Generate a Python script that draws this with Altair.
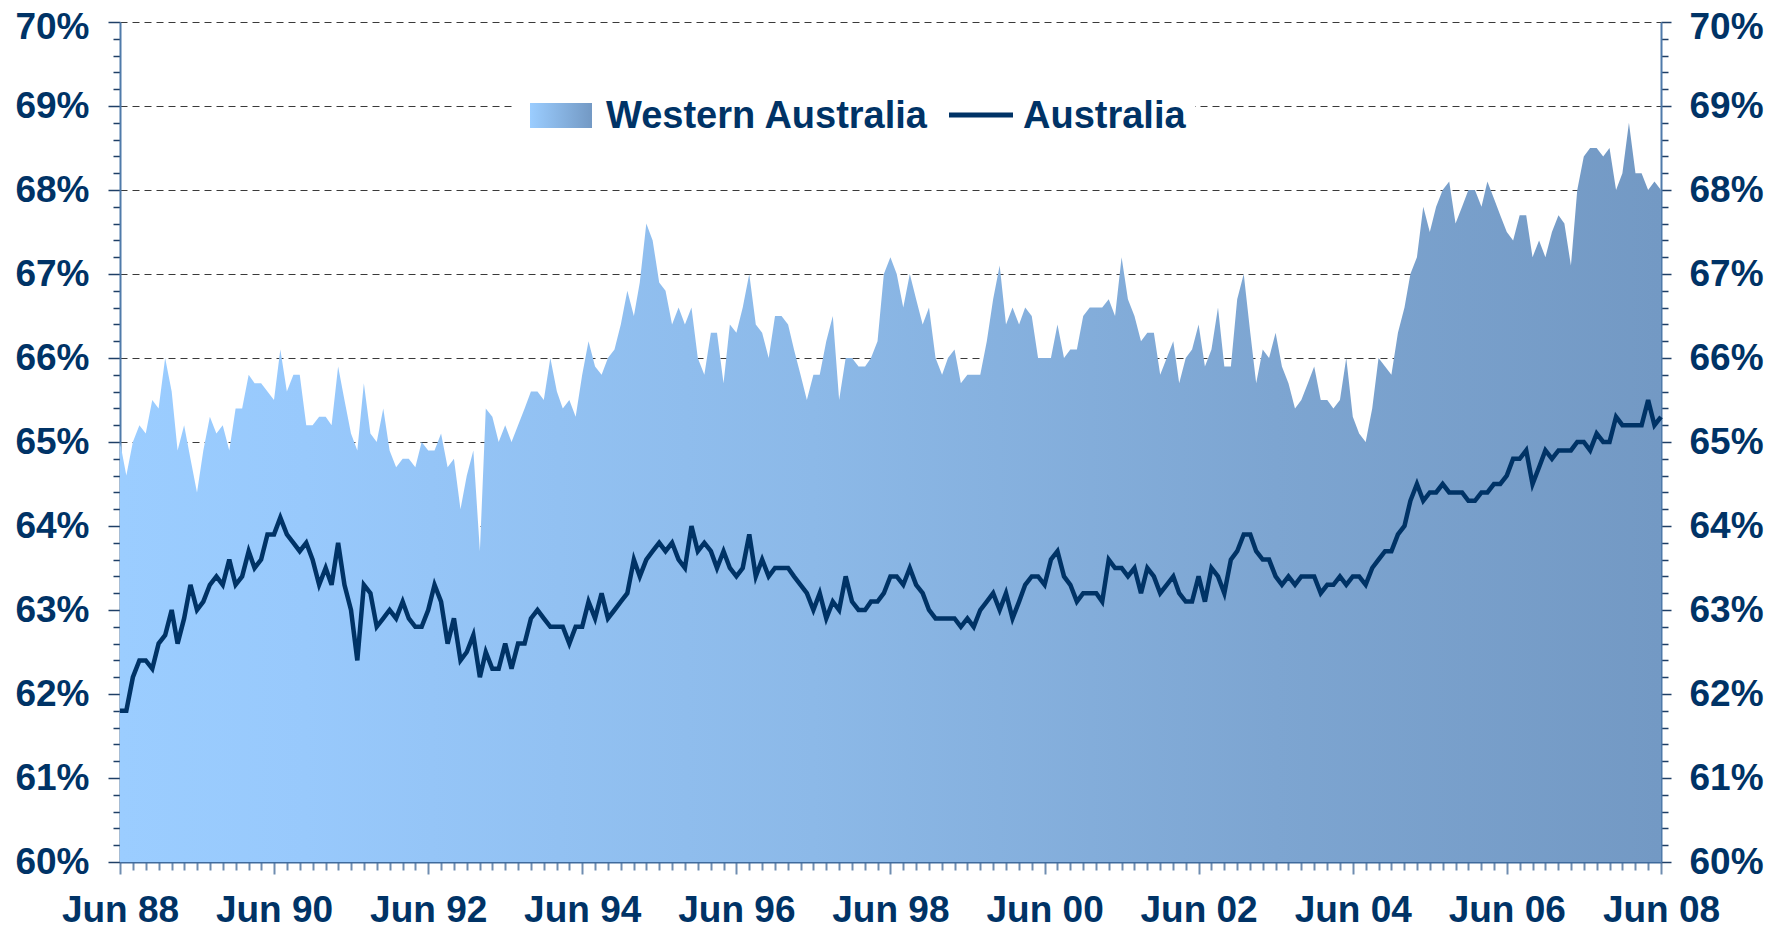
import altair as alt
import pandas as pd

# Monthly participation rate (%), Jun 1988 .. Jun 2008
wa = [65.0, 64.6, 65.0, 65.2, 65.1, 65.5, 65.4, 66.0, 65.6, 64.9,
      65.2, 64.8, 64.4, 64.9, 65.3, 65.1, 65.2, 64.9, 65.4, 65.4,
      65.8, 65.7, 65.7, 65.6, 65.5, 66.1, 65.6, 65.8, 65.8, 65.2,
      65.2, 65.3, 65.3, 65.2, 65.9, 65.5, 65.1, 64.9, 65.7, 65.1,
      65.0, 65.4, 64.9, 64.7, 64.8, 64.8, 64.7, 65.0, 64.9, 64.9,
      65.1, 64.7, 64.8, 64.2, 64.6, 64.9, 63.7, 65.4, 65.3, 65.0,
      65.2, 65.0, 65.2, 65.4, 65.6, 65.6, 65.5, 66.0, 65.6, 65.4,
      65.5, 65.3, 65.8, 66.2, 65.9, 65.8, 66.0, 66.1, 66.4, 66.8,
      66.5, 66.9, 67.6, 67.4, 66.9, 66.8, 66.4, 66.6, 66.4, 66.6,
      66.0, 65.8, 66.3, 66.3, 65.7, 66.4, 66.3, 66.6, 67.0, 66.4,
      66.3, 66.0, 66.5, 66.5, 66.4, 66.1, 65.8, 65.5, 65.8, 65.8,
      66.2, 66.5, 65.5, 66.0, 66.0, 65.9, 65.9, 66.0, 66.2, 67.0,
      67.2, 67.0, 66.6, 67.0, 66.7, 66.4, 66.6, 66.0, 65.8, 66.0,
      66.1, 65.7, 65.8, 65.8, 65.8, 66.2, 66.7, 67.1, 66.4, 66.6,
      66.4, 66.6, 66.5, 66.0, 66.0, 66.0, 66.4, 66.0, 66.1, 66.1,
      66.5, 66.6, 66.6, 66.6, 66.7, 66.5, 67.2, 66.7, 66.5, 66.2,
      66.3, 66.3, 65.8, 66.0, 66.2, 65.7, 66.0, 66.1, 66.4, 65.9,
      66.1, 66.6, 65.9, 65.9, 66.7, 67.0, 66.3, 65.7, 66.1, 66.0,
      66.3, 65.9, 65.7, 65.4, 65.5, 65.7, 65.9, 65.5, 65.5, 65.4,
      65.5, 66.0, 65.3, 65.1, 65.0, 65.4, 66.0, 65.9, 65.8, 66.3,
      66.6, 67.0, 67.2, 67.8, 67.5, 67.8, 68.0, 68.1, 67.6, 67.8,
      68.0, 68.0, 67.8, 68.1, 67.9, 67.7, 67.5, 67.4, 67.7, 67.7,
      67.2, 67.4, 67.2, 67.5, 67.7, 67.6, 67.1, 68.0, 68.4, 68.5,
      68.5, 68.4, 68.5, 68.0, 68.2, 68.8, 68.2, 68.2, 68.0, 68.1,
      68.0]

aus = [61.8, 61.8, 62.2, 62.4, 62.4, 62.3, 62.6, 62.7, 63.0, 62.6,
       62.9, 63.3, 63.0, 63.1, 63.3, 63.4, 63.3, 63.6, 63.3, 63.4,
       63.7, 63.5, 63.6, 63.9, 63.9, 64.1, 63.9, 63.8, 63.7, 63.8,
       63.6, 63.3, 63.5, 63.3, 63.8, 63.3, 63.0, 62.4, 63.3, 63.2,
       62.8, 62.9, 63.0, 62.9, 63.1, 62.9, 62.8, 62.8, 63.0, 63.3,
       63.1, 62.6, 62.9, 62.4, 62.5, 62.7, 62.2, 62.5, 62.3, 62.3,
       62.6, 62.3, 62.6, 62.6, 62.9, 63.0, 62.9, 62.8, 62.8, 62.8,
       62.6, 62.8, 62.8, 63.1, 62.9, 63.2, 62.9, 63.0, 63.1, 63.2,
       63.6, 63.4, 63.6, 63.7, 63.8, 63.7, 63.8, 63.6, 63.5, 64.0,
       63.7, 63.8, 63.7, 63.5, 63.7, 63.5, 63.4, 63.5, 63.9, 63.4,
       63.6, 63.4, 63.5, 63.5, 63.5, 63.4, 63.3, 63.2, 63.0, 63.2,
       62.9, 63.1, 63.0, 63.4, 63.1, 63.0, 63.0, 63.1, 63.1, 63.2,
       63.4, 63.4, 63.3, 63.5, 63.3, 63.2, 63.0, 62.9, 62.9, 62.9,
       62.9, 62.8, 62.9, 62.8, 63.0, 63.1, 63.2, 63.0, 63.2, 62.9,
       63.1, 63.3, 63.4, 63.4, 63.3, 63.6, 63.7, 63.4, 63.3, 63.1,
       63.2, 63.2, 63.2, 63.1, 63.6, 63.5, 63.5, 63.4, 63.5, 63.2,
       63.5, 63.4, 63.2, 63.3, 63.4, 63.2, 63.1, 63.1, 63.4, 63.1,
       63.5, 63.4, 63.2, 63.6, 63.7, 63.9, 63.9, 63.7, 63.6, 63.6,
       63.4, 63.3, 63.4, 63.3, 63.4, 63.4, 63.4, 63.2, 63.3, 63.3,
       63.4, 63.3, 63.4, 63.4, 63.3, 63.5, 63.6, 63.7, 63.7, 63.9,
       64.0, 64.3, 64.5, 64.3, 64.4, 64.4, 64.5, 64.4, 64.4, 64.4,
       64.3, 64.3, 64.4, 64.4, 64.5, 64.5, 64.6, 64.8, 64.8, 64.9,
       64.5, 64.7, 64.9, 64.8, 64.9, 64.9, 64.9, 65.0, 65.0, 64.9,
       65.1, 65.0, 65.0, 65.3, 65.2, 65.2, 65.2, 65.2, 65.5, 65.2,
       65.3]

series_names = ["Western Australia", "Australia"]
first_month = "1988-06-01"

dates = pd.date_range(first_month, periods=len(wa), freq="MS")
df = pd.DataFrame({"date": dates.strftime("%Y-%m-%d"), "wa": wa, "aus": aus})

def ms(ts):
    return int(pd.Timestamp(ts).value // 10**6)

x_ticks = [ms(t) for t in pd.date_range(dates[0], dates[-1], freq="2MS")]
y_ticks = [round(60 + 0.2 * k, 1) for k in range(51)]

NAVY = "#003366"
FONT = "Liberation Sans"
FS = 37

is_int = "abs(datum.value - round(datum.value)) < 0.01"
is_major_x = "utcmonth(datum.value) == 5 && utcyear(datum.value) % 2 == 0"
top_shift = {"condition": {"test": "datum.value > 69.9", "value": 5}, "value": 0}

x_axis = alt.Axis(
    values=x_ticks, title=None, grid=False,
    domainColor="#3F6A9C", domainWidth=2,
    tickColor="#6F8DB0", tickWidth=2,
    tickSize={"condition": {"test": is_major_x, "value": 12}, "value": 8},
    labelExpr=f"{is_major_x} ? utcFormat(datum.value, '%b %y') : ''",
    labelFont=FONT, labelFontWeight="bold", labelFontSize=FS, labelColor=NAVY,
    labelPadding=18, labelOverlap=False, labelFlush=False, labelBound=False,
)

x_enc = alt.X("date:T", scale=alt.Scale(type="utc", domain=[ms(dates[0]), ms(dates[-1])]),
              axis=x_axis)

y_scale = alt.Scale(domain=[60, 70], nice=False, zero=False)

left_axis = alt.Axis(
    orient="left", values=y_ticks, title=None,
    grid=True, gridDash=[7, 5], gridColor="#3A3A3A", gridWidth=1,
    gridOpacity={"condition": {"test": f"datum.value > 60.5 && {is_int}", "value": 1}, "value": 0},
    domainColor="#4F7AAA", domainWidth=2,
    tickColor="#1F3F66", tickWidth=1.5,
    tickSize={"condition": {"test": is_int, "value": 12}, "value": 7},
    labelExpr=f"{is_int} ? format(datum.value, '.0f') + '%' : ''",
    labelFont=FONT, labelFontWeight="bold", labelFontSize=FS, labelColor=NAVY,
    labelPadding=19, labelOffset=top_shift,
    labelOverlap=False, labelFlush=False, labelBound=False,
)

right_axis = alt.Axis(
    orient="right", values=y_ticks, title=None, grid=False,
    domainColor="#4F7AAA", domainWidth=2,
    tickColor="#1F3F66", tickWidth=1.5,
    tickSize={"condition": {"test": is_int, "value": 10}, "value": 7},
    labelExpr=f"{is_int} ? format(datum.value, '.0f') + '%' : ''",
    labelFont=FONT, labelFontWeight="bold", labelFontSize=FS, labelColor=NAVY,
    labelPadding=18, labelOffset=top_shift,
    labelOverlap=False, labelFlush=False, labelBound=False,
)

grad = alt.Gradient(
    gradient="linear",
    stops=[alt.GradientStop(color="#9BCDFF", offset=0),
           alt.GradientStop(color="#98C9FC", offset=0.12),
           alt.GradientStop(color="#8CB9E8", offset=0.45),
           alt.GradientStop(color="#7DA5D1", offset=0.75),
           alt.GradientStop(color="#7399C4", offset=1)],
    x1=0, x2=1, y1=0, y2=0,
)

area = alt.Chart(df).mark_area(fill=grad, opacity=1, strokeWidth=0).encode(
    x=x_enc,
    y=alt.Y("wa:Q", scale=y_scale, axis=left_axis),
    y2=alt.datum(60),
)

line = alt.Chart(df).mark_line(color=NAVY, strokeWidth=4.5, strokeJoin="miter").encode(
    x=x_enc,
    y=alt.Y("aus:Q", scale=y_scale, axis=right_axis),
)

leg_df = pd.DataFrame({"name": series_names})

leg_box = alt.Chart(leg_df).transform_filter("datum.name == 'Western Australia'").mark_rect(
    fill="white").encode(
    x=alt.value(392), x2=alt.value(1075), y=alt.value(66), y2=alt.value(112))

leg_swatch = alt.Chart(leg_df).transform_filter("datum.name == 'Western Australia'").mark_rect(
    fill=alt.Gradient(gradient="linear",
                      stops=[alt.GradientStop(color="#9BCDFF", offset=0),
                             alt.GradientStop(color="#7399C4", offset=1)],
                      x1=0, x2=1, y1=0, y2=0)).encode(
    x=alt.value(410), x2=alt.value(472), y=alt.value(81), y2=alt.value(106))

leg_line = alt.Chart(leg_df).transform_filter("datum.name == 'Australia'").mark_rule(
    color=NAVY, strokeWidth=5).encode(
    x=alt.value(829), x2=alt.value(893), y=alt.value(93))

leg_text_wa = alt.Chart(leg_df).transform_filter("datum.name == 'Western Australia'").mark_text(
    align="left", baseline="middle", font=FONT, fontWeight="bold", fontSize=38, color=NAVY).encode(
    x=alt.value(486), y=alt.value(95), text="name:N")

leg_text_au = alt.Chart(leg_df).transform_filter("datum.name == 'Australia'").mark_text(
    align="left", baseline="middle", font=FONT, fontWeight="bold", fontSize=38, color=NAVY).encode(
    x=alt.value(903), y=alt.value(95), text="name:N")

chart = alt.layer(area, line, leg_box, leg_swatch, leg_line, leg_text_wa, leg_text_au).resolve_scale(
    y="shared").resolve_axis(y="independent").properties(
    width=1541, height=840,
    autosize=alt.AutoSizeParams(type="none"),
    padding={"left": 112, "top": 14, "right": 112, "bottom": 72},
    background="white",
).configure_view(stroke=None)

chart.save("out.html", embed_options={"renderer": "svg", "actions": False})
